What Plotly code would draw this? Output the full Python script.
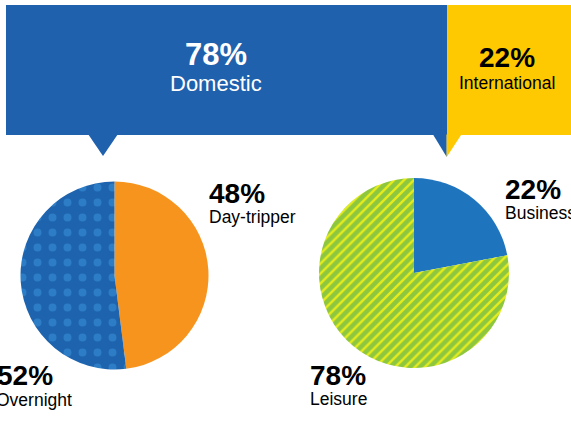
import plotly.graph_objects as go

# --- data -------------------------------------------------------------
trip_origin = ["Domestic", "International"]
trip_origin_share = [78, 22]

domestic_type = ["Day-tripper", "Overnight"]
domestic_type_share = [48, 52]

intl_purpose = ["Business", "Leisure"]
intl_purpose_share = [22, 78]

# --- styling ------------------------------------------------------------
W, H = 571, 425
BLUE = "#1F61AD"
YELLOW = "#FEC901"
ORANGE = "#F7941E"
PIE_BLUE_L = "#1E63AE"
DOT_BLUE = "#2C7DC6"
PIE_BLUE_R = "#1E74BD"
GREEN = "#8DC63F"
LIME = "#E6EC1C"
FONT = "Liberation Sans, Arial, Helvetica, sans-serif"

BANNER_LEFT, BANNER_TOP, BANNER_BOTTOM = 6, 5, 135


def px_to_paper_x(v):
    return v / W


def px_to_paper_y(v):
    return 1 - v / H


fig = go.Figure()

# banner: stacked horizontal bar of trip origin shares
for name, share, color in zip(trip_origin, trip_origin_share, [BLUE, YELLOW]):
    fig.add_trace(go.Bar(
        orientation="h", x=[share], y=["origin"], name=name,
        marker=dict(color=color, line=dict(width=0)),
        width=1, xaxis="x2", yaxis="y2", hoverinfo="skip",
    ))


def pie_domain(cx, cy, r):
    return dict(
        x=[px_to_paper_x(cx - r), px_to_paper_x(cx + r)],
        y=[px_to_paper_y(cy + r), px_to_paper_y(cy - r)],
    )


# domestic trips: day-tripper vs overnight
fig.add_trace(go.Pie(
    labels=domestic_type, values=domestic_type_share,
    sort=False, direction="clockwise", rotation=0,
    textinfo="none", hoverinfo="label+percent",
    marker=dict(
        colors=[ORANGE, PIE_BLUE_L],
        line=dict(width=0),
        pattern=dict(shape=["", "."], fgcolor=[ORANGE, DOT_BLUE],
                     bgcolor=[ORANGE, PIE_BLUE_L], size=15, solidity=0.22),
    ),
    domain=pie_domain(114.5, 275.5, 94),
))

# international trips: business vs leisure
fig.add_trace(go.Pie(
    labels=intl_purpose, values=intl_purpose_share,
    sort=False, direction="clockwise", rotation=0,
    textinfo="none", hoverinfo="label+percent",
    marker=dict(
        colors=[PIE_BLUE_R, GREEN],
        line=dict(width=0),
        pattern=dict(shape=["", "/"], fgcolor=[PIE_BLUE_R, LIME],
                     bgcolor=[PIE_BLUE_R, GREEN], size=7, solidity=0.35),
    ),
    domain=pie_domain(414, 273, 95),
))

# callout pointers under the banner
split_px = BANNER_LEFT + (W - BANNER_LEFT) * trip_origin_share[0] / sum(trip_origin_share)
shapes = [
    dict(type="path", path=f"M 88 {BANNER_BOTTOM-1} L 118 {BANNER_BOTTOM-1} L 103 156 Z",
         fillcolor=BLUE, line=dict(width=0), xref="x", yref="y"),
    dict(type="path",
         path=f"M {split_px-14} {BANNER_BOTTOM-1} L {split_px} {BANNER_BOTTOM-1} L {split_px} 157 Z",
         fillcolor=BLUE, line=dict(width=0), xref="x", yref="y"),
    dict(type="path",
         path=f"M {split_px} {BANNER_BOTTOM-1} L {split_px+15} {BANNER_BOTTOM-1} L {split_px} 157 Z",
         fillcolor=YELLOW, line=dict(width=0), xref="x", yref="y"),
]

annotations = []


def label(x, y, text, size, bold=False, color="#000000", xanchor="left"):
    annotations.append(dict(
        x=x, y=y, xref="x", yref="y", text=f"<b>{text}</b>" if bold else text,
        showarrow=False, xanchor=xanchor, yanchor="middle",
        font=dict(family=FONT, size=size, color=color),
    ))


# banner labels
banner_label_x = [216, 507]
banner_styles = [("#FFFFFF", 31, 22, 54, 83), ("#000000", 28, 17.5, 57, 83)]
for name, share, cx, (col, big, small, y_big, y_small) in zip(
        trip_origin, trip_origin_share, banner_label_x, banner_styles):
    label(cx, y_big, f"{share}%", big, True, col, "center")
    label(cx, y_small, name, small, False, col, "center")

# pie labels
label(207, 193, f"{domestic_type_share[0]}%", 28, True)
label(207, 216.5, domestic_type[0], 17.5)
label(55, 375, f"{domestic_type_share[1]}%", 28, True, xanchor="right")
label(74, 399.5, domestic_type[1], 17.5, xanchor="right")

label(503, 189.5, f"{intl_purpose_share[0]}%", 28, True)
label(503, 213, intl_purpose[0], 17.5)
label(308, 375, f"{intl_purpose_share[1]}%", 28, True)
label(308, 399, intl_purpose[1], 17.5)

fig.update_layout(
    width=W, height=H,
    margin=dict(l=0, r=0, t=0, b=0),
    paper_bgcolor="#FFFFFF", plot_bgcolor="rgba(0,0,0,0)",
    barmode="stack", showlegend=False,
    xaxis=dict(range=[0, W], domain=[0, 1], visible=False, fixedrange=True),
    yaxis=dict(range=[H, 0], domain=[0, 1], visible=False, fixedrange=True),
    xaxis2=dict(range=[0, 100], domain=[px_to_paper_x(BANNER_LEFT), 1],
                visible=False, anchor="y2", fixedrange=True),
    yaxis2=dict(range=[-0.5, 0.5], domain=[px_to_paper_y(BANNER_BOTTOM), px_to_paper_y(BANNER_TOP)],
                visible=False, anchor="x2", fixedrange=True),
    shapes=shapes,
    annotations=annotations,
)

fig.write_html("out.html", config=dict(displayModeBar=False))
